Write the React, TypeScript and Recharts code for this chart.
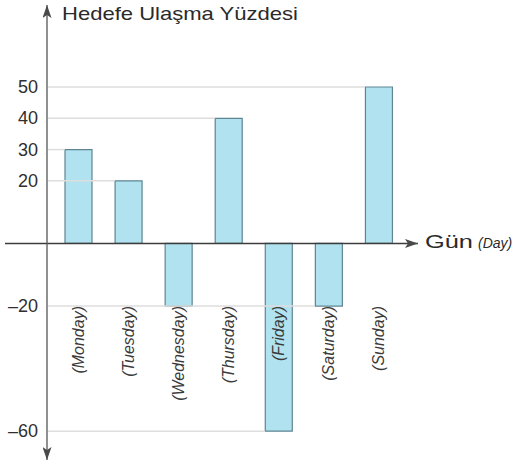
import { BarChart, Bar, XAxis, YAxis, ReferenceLine } from "recharts";

// values
const days = ["(Monday)", "(Tuesday)", "(Wednesday)", "(Thursday)", "(Friday)", "(Saturday)", "(Sunday)"];
const percents = [30, 20, -20, 40, -60, -20, 50];
const yTicks = [50, 40, 30, 20, -20, -60];
const yTitle = "Hedefe Ulaşma Yüzdesi";
const xTitle = "Gün";
const xTitleEn = "(Day)";

const data = days.map((day, i) => ({ day, value: percents[i] }));

// faint guide lines run from the axis to the last bar that reaches that tick
const guides = yTicks.map((t) => {
  const idx = percents.lastIndexOf(t);
  return { t, day: days[idx >= 0 ? idx : 0] };
});

const FONT = '"Liberation Sans", Arial, Helvetica, sans-serif';
const Y_AXIS_W = 47;
const BAR_W = 27;
const LABEL_LIFT = 154;

const fmt = (v: number) => (v < 0 ? `\u2013${-v}` : `${v}`);

const YTick = ({ x, y, payload }: any) => (
  <text x={x} y={y} textAnchor="end" dominantBaseline="central" fontSize={18} fontFamily={FONT} fill="#2f2f2f">
    {fmt(payload.value)}
  </text>
);

const DayTick = ({ x, y, payload }: any) => (
  <text
    transform={`translate(${x},${y - LABEL_LIFT}) rotate(-90)`}
    textAnchor="end"
    dominantBaseline="central"
    fontSize={16}
    fontStyle="italic"
    fontFamily={FONT}
    fill="#3a3a3a"
  >
    {payload.value}
  </text>
);

// stop at the bar's edge so the line stays behind it
const GuideLine = (p: any) => (
  <line x1={Y_AXIS_W + 1} y1={p.y1} x2={p.x2 - BAR_W / 2} y2={p.y2} stroke="#dedede" strokeWidth={1.5} />
);

const ZeroLine = (p: any) => (
  <line x1={p.x1 - 42} y1={p.y1} x2={p.x2} y2={p.y2} stroke="#3c3c3c" strokeWidth={1.4} markerEnd="url(#arrowHead)" />
);

const TitleLabel = ({ viewBox }: any) => (
  <text
    x={viewBox.x + viewBox.width + 15}
    y={viewBox.y + 14.5}
    fontSize={19}
    fontFamily={FONT}
    fill="#2a2a2a"
    textLength={236}
    lengthAdjust="spacingAndGlyphs"
  >
    {yTitle}
  </text>
);

const DayAxisLabel = ({ viewBox }: any) => (
  <g>
    <text
      x={viewBox.x + viewBox.width + 7}
      y={viewBox.y + 4.5}
      fontSize={19}
      fontFamily={FONT}
      fill="#2a2a2a"
      textLength={48}
      lengthAdjust="spacingAndGlyphs"
    >
      {xTitle}
    </text>
    <text x={viewBox.x + viewBox.width + 60} y={viewBox.y + 4.5} fontSize={14} fontStyle="italic" fontFamily={FONT} fill="#2a2a2a">
      {xTitleEn}
    </text>
  </g>
);

export default function App() {
  return (
    <div style={{ position: "absolute", left: 0, top: 0, width: 513, height: 465, background: "#fff" }}>
      <BarChart width={513} height={465} data={data} margin={{ top: 5, right: 95, left: 0, bottom: 0 }}>
        <defs>
          <marker
            id="arrowHead"
            viewBox="0 0 13 9"
            refX={13}
            refY={4.5}
            markerWidth={13}
            markerHeight={9}
            markerUnits="userSpaceOnUse"
            orient="auto-start-reverse"
          >
            <path d="M0,0 L13,4.5 L0,9 L3,4.5 Z" fill="#4a4a4a" />
          </marker>
        </defs>
        <XAxis
          dataKey="day"
          height={5}
          axisLine={false}
          tickLine={false}
          tickSize={0}
          tickMargin={0}
          interval={0}
          padding={{ left: 6, right: 14.5 }}
          tick={<DayTick />}
        />
        <YAxis
          width={Y_AXIS_W}
          type="number"
          domain={[-69.2, 76.2]}
          allowDataOverflow
          ticks={yTicks}
          interval={0}
          tickLine={false}
          tickSize={0}
          tickMargin={9}
          tick={<YTick />}
          axisLine={{ stroke: "#555", strokeWidth: 1.3, markerStart: "url(#arrowHead)", markerEnd: "url(#arrowHead)" }}
          label={{ content: TitleLabel }}
        />
        {guides.map((g) => (
          <ReferenceLine
            key={g.t}
            segment={[
              { x: days[0], y: g.t },
              { x: g.day, y: g.t },
            ]}
            shape={GuideLine}
          />
        ))}
        <ReferenceLine y={0} shape={ZeroLine} label={{ content: DayAxisLabel }} />
        <Bar dataKey="value" barSize={BAR_W} fill="#b1e2ef" stroke="#5f8593" strokeWidth={1.2} isAnimationActive={false} />
      </BarChart>
    </div>
  );
}
